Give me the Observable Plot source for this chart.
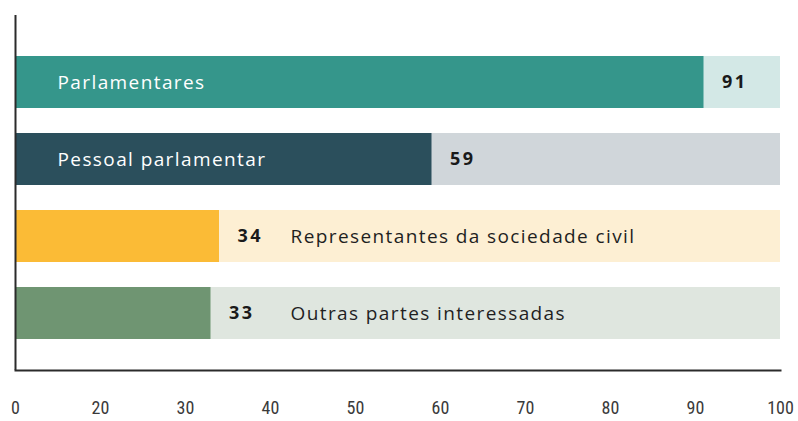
<!DOCTYPE html>
<html>
<head>
<meta charset="utf-8">
<script src="https://cdn.jsdelivr.net/npm/d3@7"></script>
<script src="https://cdn.jsdelivr.net/npm/@observablehq/plot@0.6"></script>
<style>
  html, body { margin: 0; padding: 0; background: #fff; }
  text[aria-label="cat-label"] { letter-spacing: 1.4px; }
  text[aria-label="value-label"] { letter-spacing: 2.5px; }
</style>
</head>
<body>
<div id="chart"></div>
<script>
const categories = ["Parlamentares", "Pessoal parlamentar", "Representantes da sociedade civil", "Outras partes interessadas"];
const values = [91, 59, 34, 33];
const barColors = ["#35968b", "#2b4f5c", "#fbbb36", "#6f9572"];
const bgColors = ["#d3e8e6", "#d0d6da", "#fdefd3", "#dfe6df"];
const labelInside = [true, true, false, false];
const tickValues = [10, 20, 30, 40, 50, 60, 70, 80, 90, 100];
const tickLabels = ["0", "20", "30", "40", "50", "60", "70", "80", "90", "100"];

const data = categories.map((c, i) => ({
  cat: c, value: values[i], bar: barColors[i], bg: bgColors[i], inside: labelInside[i]
}));

const chart = Plot.plot({
  width: 798,
  height: 421,
  marginLeft: 15,
  marginRight: 18,
  marginTop: 55,
  marginBottom: 82,
  x: { domain: [10, 100], axis: null, label: null },
  y: { domain: categories, axis: null, paddingInner: 0.33, paddingOuter: 0 },
  color: { type: "identity" },
  marks: [
    Plot.rectX(data, { y: "cat", x1: 10, x2: 100, fill: "bg" }),
    Plot.rectX(data, { y: "cat", x1: 10, x2: "value", fill: "bar" }),
    Plot.text(data.filter(d => d.inside), {
      ariaLabel: () => "cat-label",
      x: 10, y: "cat", text: "cat", dx: 42, textAnchor: "start",
      fill: "#ffffff", fontSize: 19, fontFamily: "Open Sans"
    }),
    Plot.text(data, {
      ariaLabel: () => "value-label",
      x: "value", y: "cat", text: d => String(d.value), dx: 18, textAnchor: "start",
      fill: "#1a1a1a", fontSize: 18, fontWeight: "bold", fontFamily: "Open Sans"
    }),
    Plot.text(data.filter(d => !d.inside), {
      ariaLabel: () => "cat-label",
      x: 10, y: "cat", text: "cat", dx: 275, textAnchor: "start",
      fill: "#1f1f1f", fontSize: 19, fontFamily: "Open Sans"
    }),
    Plot.ruleX([10], { stroke: "#2b2b2b", strokeWidth: 2, insetTop: -40, insetBottom: -31 }),
    Plot.frame({ anchor: "bottom", stroke: "#2b2b2b", strokeWidth: 2, dy: 31 }),
    Plot.axisX(tickValues, {
      tickSize: 0, tickPadding: 62, label: null,
      tickFormat: d => tickLabels[tickValues.indexOf(d)],
      fontSize: 18, fill: "#3a3a3a",
      fontFamily: "'Liberation Sans Narrow', 'Roboto Condensed', 'DejaVu Sans Condensed', sans-serif"
    })
  ]
});
document.getElementById("chart").appendChild(chart);
</script>
</body>
</html>
